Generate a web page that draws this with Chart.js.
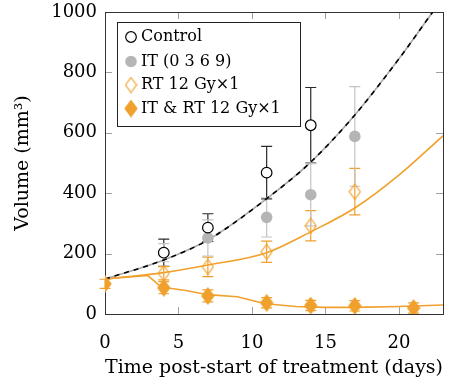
<!DOCTYPE html>
<html>
<head>
<meta charset="utf-8">
<script src="https://cdn.jsdelivr.net/npm/chart.js@4.4.0/dist/chart.umd.min.js"></script>
<style>
  html, body { margin: 0; padding: 0; background: #fff; }
  #wrap { width: 451px; height: 379px; }
</style>
</head>
<body>
<div id="wrap"><canvas id="tumorChart" width="451" height="379"></canvas></div>
<script>
const ORANGE = '#f0a02c';
const GRAY = '#b5b5b5';
const FONT = 'DejaVu Serif';

// Medidas de volume (média ± erro)
const controlDays = [4, 7, 11, 14];
const controlVol = [203, 286, 468, 625];
const controlErr = [45, 46, 87, 125];

const itDays = [4, 7, 11, 14, 17];
const itVol = [203, 252, 320, 395, 588];
const itErr = [30, 60, 65, 103, 165];

const rtDays = [4, 7, 11, 14, 17];
const rtVol = [135, 156, 206, 292, 405];
const rtErr = [22, 32, 35, 50, 77];

const itrtDays = [0, 4, 7, 11, 14, 17, 21];
const itrtVol = [100, 87, 60, 37, 28, 27, 20];
const itrtErr = [15, 20, 20, 17, 17, 17, 17];

// Curvas do modelo
const fitGrowthDays = [0, 4, 7, 11, 14, 17, 20, 22.3];
const fitGrowthVol = [116, 179, 245, 382, 503, 659, 845, 1000];
const fitRtDays = [0, 4, 7, 11, 14, 17, 20, 23];
const fitRtVol = [116, 137, 162, 203, 272, 351, 460, 590];
const fitItrtDays = [0, 2.9, 3.8, 4.4, 5.5, 7, 9, 10.9, 13, 15, 17, 20, 23];
const fitItrtVol = [116, 128, 90, 85, 78, 64, 57, 34, 25, 22, 22, 25, 30];

const xTicks = [0, 5, 10, 15, 20];
const yTicks = [0, 200, 400, 600, 800, 1000];

const legendLabels = ['Control', 'IT (0 3 6 9)', 'RT 12 Gy\u00d71', 'IT & RT 12 Gy\u00d71'];

const toPoints = (xs, ys) => xs.map((x, i) => ({ x, y: ys[i] }));

// Losango mais alto que largo
function diamond(w, h, filled) {
    const c = document.createElement('canvas');
    c.width = w + 2;
    c.height = h + 2;
    const g = c.getContext('2d');
    g.beginPath();
    g.moveTo(c.width / 2, 1);
    g.lineTo(c.width - 1, c.height / 2);
    g.lineTo(c.width / 2, c.height - 1);
    g.lineTo(1, c.height / 2);
    g.closePath();
    if (filled) { g.fillStyle = ORANGE; g.fill(); }
    g.strokeStyle = ORANGE;
    g.lineWidth = 1.2;
    g.stroke();
    return c;
}
const openDiamond = diamond(11, 15, false);
const fullDiamond = diamond(12, 16, true);

// Barras de erro
const errorBars = {
    id: 'errorBars',
    beforeDatasetsDraw(chart) {
        const { ctx, scales: { x, y } } = chart;
        chart.data.datasets.forEach(ds => {
            if (!ds.errors) return;
            ctx.save();
            ctx.strokeStyle = ds.errorColor;
            ctx.lineWidth = 1.2;
            ds.data.forEach((p, i) => {
                const px = x.getPixelForValue(p.x);
                const top = y.getPixelForValue(p.y + ds.errors[i]);
                const bot = y.getPixelForValue(p.y - ds.errors[i]);
                ctx.beginPath();
                ctx.moveTo(px, top); ctx.lineTo(px, bot);
                ctx.moveTo(px - 5.5, top); ctx.lineTo(px + 5.5, top);
                ctx.moveTo(px - 5.5, bot); ctx.lineTo(px + 5.5, bot);
                ctx.stroke();
            });
            ctx.restore();
        });
    }
};

// Moldura com ticks para dentro
const frame = {
    id: 'frame',
    beforeDatasetsDraw(chart) {
        const { ctx, chartArea: a, scales: { x, y } } = chart;
        ctx.save();
        ctx.strokeStyle = '#a0a0a0';
        ctx.lineWidth = 1;
        ctx.beginPath();
        xTicks.forEach(v => {
            const px = Math.round(x.getPixelForValue(v)) + 0.5;
            ctx.moveTo(px, a.bottom); ctx.lineTo(px, a.bottom - 7);
            ctx.moveTo(px, a.top); ctx.lineTo(px, a.top + 7);
        });
        yTicks.forEach(v => {
            const py = Math.round(y.getPixelForValue(v)) + 0.5;
            ctx.moveTo(a.left, py); ctx.lineTo(a.left + 7, py);
            ctx.moveTo(a.right, py); ctx.lineTo(a.right - 7, py);
        });
        ctx.stroke();
        ctx.strokeStyle = '#333';
        ctx.strokeRect(Math.round(a.left) + 0.5, Math.round(a.top) + 0.5,
            Math.round(a.right - a.left), Math.round(a.bottom - a.top));
        ctx.restore();
    }
};

// Legenda com caixa
const boxLegend = {
    id: 'boxLegend',
    afterDraw(chart) {
        const ctx = chart.ctx;
        const left = 117.5, top = 22.5, w = 183, h = 104;
        ctx.save();
        ctx.fillStyle = '#fff';
        ctx.fillRect(left, top, w, h);
        ctx.strokeStyle = '#222';
        ctx.lineWidth = 1;
        ctx.strokeRect(left, top, w, h);
        const rows = [37, 61.5, 85, 108.5];
        const mx = 131;
        // Control
        ctx.beginPath(); ctx.arc(mx, rows[0], 5.3, 0, Math.PI * 2);
        ctx.strokeStyle = '#000'; ctx.lineWidth = 1.2; ctx.stroke();
        // IT
        ctx.beginPath(); ctx.arc(mx, rows[1], 5.8, 0, Math.PI * 2);
        ctx.fillStyle = GRAY; ctx.fill();
        ctx.drawImage(openDiamond, mx - openDiamond.width / 2, rows[2] - openDiamond.height / 2);
        ctx.drawImage(fullDiamond, mx - fullDiamond.width / 2, rows[3] - fullDiamond.height / 2);
        ctx.fillStyle = '#000';
        ctx.font = '16px "' + FONT + '"';
        ctx.textBaseline = 'middle';
        legendLabels.forEach((t, i) => ctx.fillText(t, 141, rows[i]));
        ctx.restore();
    }
};

new Chart(document.getElementById('tumorChart'), {
    type: 'scatter',
    data: {
        datasets: [
            {
                label: legendLabels[3],
                data: toPoints(itrtDays, itrtVol),
                errors: itrtErr, errorColor: ORANGE,
                pointStyle: fullDiamond, pointRadius: 7
            },
            {
                label: legendLabels[0],
                data: toPoints(controlDays, controlVol),
                errors: controlErr, errorColor: '#2a2a2a',
                pointStyle: 'circle', pointRadius: 5.3,
                borderColor: '#000', backgroundColor: '#fff', borderWidth: 1.2
            },
            {
                label: legendLabels[2],
                data: toPoints(rtDays, rtVol),
                errors: rtErr, errorColor: ORANGE,
                pointStyle: openDiamond, pointRadius: 7
            },
            {
                label: legendLabels[1],
                data: toPoints(itDays, itVol),
                errors: itErr, errorColor: '#c4c4c4',
                pointStyle: 'circle', pointRadius: 5.8,
                borderColor: GRAY, backgroundColor: GRAY, borderWidth: 0
            },
            {
                label: 'fit growth dashed',
                data: toPoints(fitGrowthDays, fitGrowthVol),
                showLine: true, pointRadius: 0,
                borderColor: '#000', borderWidth: 1.6, borderDash: [5, 5],
                cubicInterpolationMode: 'monotone'
            },
            {
                label: 'fit growth',
                data: toPoints(fitGrowthDays, fitGrowthVol),
                showLine: true, pointRadius: 0,
                borderColor: '#a8a8a8', borderWidth: 1.6,
                cubicInterpolationMode: 'monotone'
            },
            {
                label: 'fit rt',
                data: toPoints(fitRtDays, fitRtVol),
                showLine: true, pointRadius: 0,
                borderColor: ORANGE, borderWidth: 1.6,
                cubicInterpolationMode: 'monotone'
            },
            {
                label: 'fit it rt',
                data: toPoints(fitItrtDays, fitItrtVol),
                showLine: true, pointRadius: 0,
                borderColor: ORANGE, borderWidth: 1.6,
                tension: 0
            }
        ]
    },
    options: {
        responsive: false,
        animation: false,
        layout: { padding: { top: 12, right: 6, left: 0, bottom: 0 } },
        plugins: { legend: { display: false }, tooltip: { enabled: false } },
        scales: {
            x: {
                type: 'linear', min: 0, max: 23,
                afterBuildTicks: s => { s.ticks = xTicks.map(v => ({ value: v })); },
                afterFit: s => { s.height = 65; s.paddingLeft = 0; s.paddingRight = 0; },
                grid: { display: false },
                border: { display: false },
                ticks: { color: '#000', padding: 11, font: { family: FONT, size: 18 }, callback: v => String(v) },
                title: {
                    display: true, text: 'Time post-start of treatment (days)',
                    color: '#000', font: { family: FONT, size: 19 }, padding: { top: 0, bottom: 0 }
                }
            },
            y: {
                type: 'linear', min: 0, max: 1000,
                afterBuildTicks: s => { s.ticks = yTicks.map(v => ({ value: v })); },
                afterFit: s => { s.width = 105; s.paddingTop = 0; s.paddingBottom = 0; },
                grid: { display: false },
                border: { display: false },
                ticks: { color: '#000', padding: 0, font: { family: FONT, size: 18 }, callback: v => String(v) },
                title: {
                    display: true, text: 'Volume (mm\u00b3)',
                    color: '#000', font: { family: FONT, size: 19 }, padding: { top: 12, bottom: 0 }
                }
            }
        }
    },
    plugins: [frame, errorBars, boxLegend]
});
</script>
</body>
</html>
